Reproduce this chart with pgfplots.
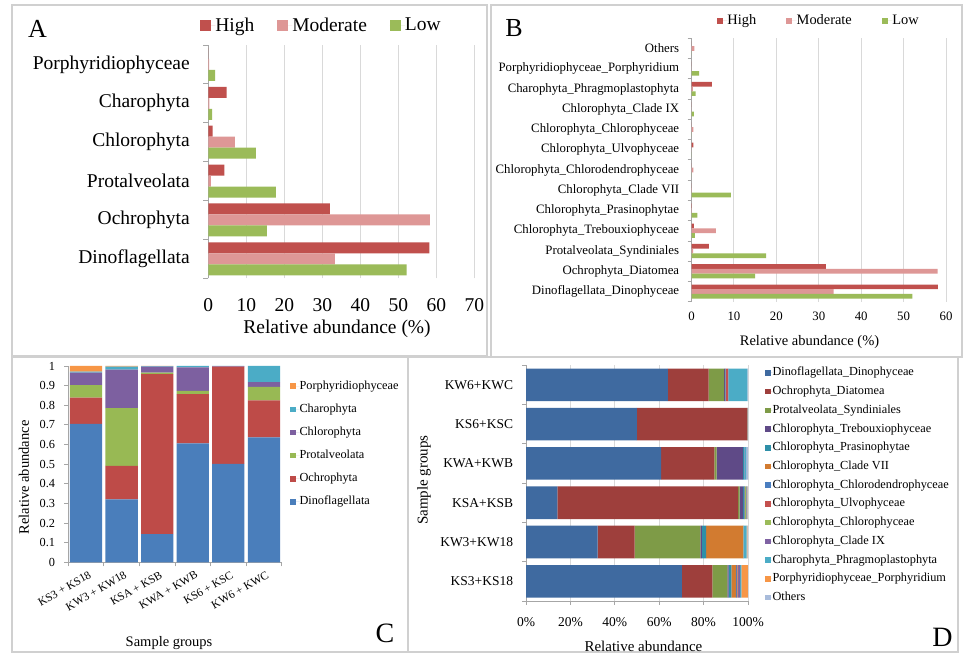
\documentclass[border=0pt]{standalone}
\usepackage{fontspec}
\setmainfont{Liberation Serif}
\usepackage{pgfplots}
\usepackage{pgfplotstable}
\pgfplotsset{compat=1.18}

\definecolor{hiC}{HTML}{C0504D}
\definecolor{moC}{HTML}{DE9796}
\definecolor{loC}{HTML}{9BBB59}
\definecolor{gridC}{HTML}{D9D9D9}
\definecolor{axC}{HTML}{A6A6A6}
\definecolor{frameC}{HTML}{D0D0D0}
\definecolor{cDino}{HTML}{4A7EBB}
\definecolor{cOchro}{HTML}{BE4B48}
\definecolor{cProt}{HTML}{98B954}
\definecolor{cChlo}{HTML}{7D60A0}
\definecolor{cChar}{HTML}{4BACC6}
\definecolor{cPorp}{HTML}{F79646}
\definecolor{dDino}{HTML}{3F6AA0}
\definecolor{dOchro}{HTML}{9E3F3C}
\definecolor{dProt}{HTML}{7E9B47}
\definecolor{dTreb}{HTML}{5F4A87}
\definecolor{dPras}{HTML}{2E8FA8}
\definecolor{dCVII}{HTML}{D27B30}
\definecolor{dCden}{HTML}{4A7EC0}
\definecolor{dUlvo}{HTML}{C4504E}
\definecolor{dCphy}{HTML}{9BBB59}
\definecolor{dCIX}{HTML}{7F62A3}
\definecolor{dChar}{HTML}{4BACC6}
\definecolor{dPorp}{HTML}{F79646}
\definecolor{dOth}{HTML}{A9BCDB}

\newcommand\fA{\fontsize{19.5}{22}\selectfont}
\newcommand\fB{\fontsize{12.8}{15}\selectfont}
\newcommand\fBleg{\fontsize{14.4}{16}\selectfont}
\newcommand\fBx{\fontsize{14.5}{16}\selectfont}
\newcommand\fC{\fontsize{12.3}{14}\selectfont}
\newcommand\fCx{\fontsize{11.5}{13}\selectfont}
\newcommand\fCl{\fontsize{14.5}{16}\selectfont}
\newcommand\fD{\fontsize{13.5}{15}\selectfont}
\newcommand\fDleg{\fontsize{12.3}{14}\selectfont}
\newcommand\fDl{\fontsize{15}{17}\selectfont}
\newcommand\fP{\fontsize{26}{28}\selectfont}
\newcommand\fPP{\fontsize{28}{30}\selectfont}

\pgfplotsset{
 legA/.style={legend image code/.code={\fill[##1] (0pt,-5.5pt) rectangle (11pt,5.5pt); \path (0pt,0pt) -- (15pt,0pt);}},
 legB/.style={legend image code/.code={\fill[##1] (0pt,-3pt) rectangle (6pt,3pt); \path (0pt,0pt) -- (10.5pt,0pt);}},
 legC/.style={legend image code/.code={\fill[##1] (0pt,-2.75pt) rectangle (5.5pt,2.75pt); \path (0pt,0pt) -- (9.3pt,0pt);}},
 legD/.style={legend image code/.code={\fill[##1] (0pt,-2.75pt) rectangle (5.5pt,2.75pt); \path (0pt,0pt) -- (7.3pt,0pt);}},
}

\pgfplotstableread{
idx High Mod Low
0 58.2 33.3 52.2
1 32.0 58.3 15.4
2 4.2 0.7 17.8
3 1.15 7.0 12.5
4 4.8 0.3 1.0
5 0.0 0.2 1.8
}\tableA

\pgfplotstableread{
idx High Mod Low
0 58.1 33.5 52.1
1 31.7 58.0 15.0
2 4.1 0.4 17.6
3 0.55 5.75 0.8
4 0.1 0.1 1.4
5 0.0 0.1 9.3
6 0.0 0.45 0.0
7 0.45 0.0 0.0
8 0.0 0.45 0.0
9 0.0 0.0 0.55
10 4.8 0.3 0.95
11 0.0 0.0 1.8
12 0.0 0.7 0.0
}\tableB

\pgfplotstableread{
idx Dino Ochro Protal Chloro Charo Porph
0 0.705 0.134 0.064 0.063 0.005 0.029
1 0.321 0.170 0.295 0.195 0.016 0.003
2 0.144 0.814 0.008 0.031 0.002 0.001
3 0.606 0.251 0.016 0.120 0.007 0.000
4 0.501 0.496 0.000 0.002 0.001 0.000
5 0.637 0.188 0.068 0.025 0.082 0.000
}\tableC

\pgfplotstableread{
idx Dino Ochro Protal Treb Pras CVII Cden Ulvo Cphy CIX Charo Porph Oth
0 70.2 13.7 6.8 0.6 1.2 2.1 0.4 0.3 0.3 0.9 0.5 2.9 0.1
1 32.3 16.6 29.6 0.7 1.9 16.6 0.1 0.0 0.1 0.1 1.4 0.3 0.3
2 14.1 81.4 0.7 1.6 0.4 0.1 0.2 0.1 0.6 0.2 0.2 0.1 0.3
3 60.9 24.0 1.0 11.8 0.5 0.0 0.0 0.0 0.0 0.2 0.7 0.0 0.9
4 49.9 49.6 0.0 0.1 0.0 0.0 0.0 0.1 0.1 0.0 0.1 0.0 0.1
5 63.9 18.4 6.9 0.5 0.1 0.0 0.1 1.0 0.1 0.2 8.5 0.0 0.3
}\tableD

\begin{document}
\begin{tikzpicture}
\useasboundingbox (0pt,0pt) rectangle (964pt,655pt);
\fill[white] (0pt,0pt) rectangle (964pt,655pt);
% panel frames
\draw[frameC, line width=1.2pt] (12pt,299pt) rectangle (487pt,650pt);
\draw[frameC, line width=1.2pt] (491pt,298pt) rectangle (962pt,650pt);
\draw[frameC, line width=1.2pt] (12pt,3pt) rectangle (408pt,298pt);
\draw[frameC, line width=1.2pt] (408pt,3pt) rectangle (958pt,298pt);

% ---------------- Panel A ----------------
\begin{axis}[
 at={(208.3pt,376.7pt)}, anchor=south west,
 scale only axis, width=266pt, height=233.3pt,
 xbar, bar width=11pt,
 xmin=0, xmax=70, ymin=-0.5, ymax=5.5,
 axis x line*=bottom, axis y line*=left,
 x axis line style={draw=none},
 y axis line style={draw=axC, line width=0.8pt},
 xtick={0,10,...,70}, xtick style={draw=none},
 xmajorgrids, grid style={draw=gridC, line width=0.9pt},
 ytick={0,...,5},
 yticklabels={Dinoflagellata,Ochrophyta,Protalveolata,Chlorophyta,Charophyta,Porphyridiophyceae},
 minor ytick={-0.5,0.5,1.5,2.5,3.5,4.5,5.5},
 ytick style={draw=axC, line width=0.8pt},
 major tick length=0pt, minor tick length=5pt, tick align=outside,
 /pgf/number format/assume math mode=true,
 xticklabel style={font=\fA, anchor=center, inner sep=0pt, yshift=-26.7pt},
 yticklabel style={font=\fA, anchor=east, inner sep=0pt, xshift=-18.3pt},
 xlabel={Relative abundance (\%)},
 xlabel style={font=\fA, at={(axis description cs:0.484,-0.2173)}, anchor=center, inner sep=0pt},
 legend style={at={(-0.031,1.0857)}, anchor=west, draw=none, fill=none, inner sep=0pt, font=\fA, nodes={inner sep=0pt}, /tikz/every even column/.append style={column sep=23pt}},
 legend columns=3, legend cell align=left,
]
\addplot[fill=hiC, draw=none, bar shift=11pt, legA] table[x=High, y=idx] {\tableA};
\addplot[fill=moC, draw=none, bar shift=0pt, legA] table[x=Mod, y=idx] {\tableA};
\addplot[fill=loC, draw=none, bar shift=-11pt, legA] table[x=Low, y=idx] {\tableA};
\legend{High,Moderate,Low}
\end{axis}

% ---------------- Panel B ----------------
\begin{axis}[
 at={(691.5pt,353.3pt)}, anchor=south west,
 scale only axis, width=254.5pt, height=263.4pt,
 xbar, bar width=4.7pt,
 xmin=0, xmax=60, ymin=-0.5, ymax=12.5,
 axis x line*=bottom, axis y line*=left,
 x axis line style={draw=none},
 y axis line style={draw=axC, line width=0.8pt},
 xtick={0,10,...,60}, xtick style={draw=none},
 xmajorgrids, grid style={draw=gridC, line width=0.9pt},
 ytick={0,...,12},
 yticklabels={Dinoflagellata\_Dinophyceae,Ochrophyta\_Diatomea,Protalveolata\_Syndiniales,Chlorophyta\_Trebouxiophyceae,Chlorophyta\_Prasinophytae,Chlorophyta\_Clade VII,Chlorophyta\_Chlorodendrophyceae,Chlorophyta\_Ulvophyceae,Chlorophyta\_Chlorophyceae,Chlorophyta\_Clade IX,Charophyta\_Phragmoplastophyta,Porphyridiophyceae\_Porphyridium,Others},
 minor ytick={-0.5,0.5,...,12.5},
 ytick style={draw=axC, line width=0.8pt},
 major tick length=0pt, minor tick length=4pt, tick align=outside,
 /pgf/number format/assume math mode=true,
 xticklabel style={font=\fB, anchor=center, inner sep=0pt, yshift=-14.3pt},
 yticklabel style={font=\fB, anchor=east, inner sep=0pt, xshift=-12.2pt},
 xlabel={Relative abundance (\%)},
 xlabel style={font=\fBx, at={(axis description cs:0.4637,-0.153)}, anchor=center, inner sep=0pt},
 legend style={at={(0.099,1.0668)}, anchor=west, draw=none, fill=none, inner sep=0pt, font=\fBleg, nodes={inner sep=0pt}, /tikz/every even column/.append style={column sep=30pt}},
 legend columns=3, legend cell align=left,
]
\addplot[fill=hiC, draw=none, bar shift=4.7pt, legB] table[x=High, y=idx] {\tableB};
\addplot[fill=moC, draw=none, bar shift=0pt, legB] table[x=Mod, y=idx] {\tableB};
\addplot[fill=loC, draw=none, bar shift=-4.7pt, legB] table[x=Low, y=idx] {\tableB};
\legend{High,Moderate,Low}
\end{axis}

% ---------------- Panel C ----------------
\begin{axis}[
 at={(68.3pt,92.7pt)}, anchor=south west,
 scale only axis, width=213.4pt, height=196.3pt,
 ybar stacked, bar width=32.3pt,
 xmin=-0.5, xmax=5.5, ymin=0, ymax=1,
 axis x line*=bottom, axis y line*=left,
 axis line style={draw=axC, line width=0.8pt},
 tick style={draw=axC, line width=0.8pt},
 major tick length=4pt, tick align=outside,
 ytick={0,0.1,0.2,0.3,0.4,0.5,0.6,0.7,0.8,0.9,1},
 /pgf/number format/assume math mode=true,
 yticklabel style={font=\fC, anchor=east, inner sep=0pt, xshift=-9pt, /pgf/number format/.cd, fixed, precision=1},
 xtick={-0.5,0.5,...,5.5}, xticklabels={},
 extra x ticks={0,1,2,3,4,5},
 extra x tick labels={KS3 + KS18,KW3 + KW18,KSA + KSB,KWA + KWB,KS6 + KSC,KW6 + KWC},
 extra x tick style={major tick length=0pt},
 xticklabel style={font=\fCx, inner sep=0pt, yshift=-8pt, xshift=2pt, rotate=30, anchor=north east},
 xlabel={Sample groups},
 xlabel style={font=\fCl, at={(axis description cs:0.472,-0.4111)}, anchor=center, inner sep=0pt},
 ylabel={Relative abundance},
 ylabel style={font=\fCl, at={(axis description cs:-0.2076,0.432)}, anchor=center, inner sep=0pt},
 legend style={at={(1.039,0.926)}, anchor=north west, draw=none, fill=none, inner sep=0pt, font=\fC, nodes={inner sep=0pt, text height=8.5pt, text depth=2.5pt}, row sep=12.14pt},
 legend cell align=left, reverse legend,
]
\addplot[fill=cDino, draw=none, legC] table[x=idx, y=Dino] {\tableC};
\addplot[fill=cOchro, draw=none, legC] table[x=idx, y=Ochro] {\tableC};
\addplot[fill=cProt, draw=none, legC] table[x=idx, y=Protal] {\tableC};
\addplot[fill=cChlo, draw=none, legC] table[x=idx, y=Chloro] {\tableC};
\addplot[fill=cChar, draw=none, legC] table[x=idx, y=Charo] {\tableC};
\addplot[fill=cPorp, draw=none, legC] table[x=idx, y=Porph] {\tableC};
\legend{Dinoflagellata,Ochrophyta,Protalveolata,Chlorophyta,Charophyta,Porphyridiophyceae}
\end{axis}

% ---------------- Panel D ----------------
\begin{axis}[
 at={(526pt,54pt)}, anchor=south west,
 scale only axis, width=222pt, height=235.8pt,
 xbar stacked, bar width=32.6pt,
 xmin=0, xmax=100, ymin=-0.5, ymax=5.5,
 axis x line*=bottom, axis y line*=left,
 axis line style={draw=axC, line width=0.8pt},
 tick style={draw=axC, line width=0.8pt},
 major tick length=4pt, tick align=outside,
 xtick={0,20,...,100},
 xmajorgrids, grid style={draw=gridC, line width=0.9pt},
 /pgf/number format/assume math mode=true,
 xticklabel={\pgfmathprintnumber{\tick}\%},
 xticklabel style={font=\fD, anchor=center, inner sep=0pt, yshift=-17.5pt},
 ytick={-0.5,0.5,...,5.5}, yticklabels={},
 extra y ticks={0,1,2,3,4,5},
 extra y tick labels={KS3+KS18,KW3+KW18,KSA+KSB,KWA+KWB,KS6+KSC,KW6+KWC},
 extra y tick style={major tick length=0pt},
 yticklabel style={font=\fD, anchor=east, inner sep=0pt, xshift=-12.7pt},
 xlabel={Relative abundance},
 xlabel style={font=\fDl, at={(axis description cs:0.529,-0.1938)}, anchor=center, inner sep=0pt},
 ylabel={Sample groups},
 ylabel style={font=\fDl, at={(axis description cs:-0.4595,0.513)}, anchor=center, inner sep=0pt},
 legend style={at={(1.0766,0.9915)}, anchor=north west, draw=none, fill=none, inner sep=0pt, font=\fDleg, nodes={inner sep=0pt, text height=8.5pt, text depth=2.5pt}, row sep=7.72pt},
 legend cell align=left,
]
\addplot[fill=dDino, draw=none, legD] table[x=Dino, y=idx] {\tableD};
\addplot[fill=dOchro, draw=none, legD] table[x=Ochro, y=idx] {\tableD};
\addplot[fill=dProt, draw=none, legD] table[x=Protal, y=idx] {\tableD};
\addplot[fill=dTreb, draw=none, legD] table[x=Treb, y=idx] {\tableD};
\addplot[fill=dPras, draw=none, legD] table[x=Pras, y=idx] {\tableD};
\addplot[fill=dCVII, draw=none, legD] table[x=CVII, y=idx] {\tableD};
\addplot[fill=dCden, draw=none, legD] table[x=Cden, y=idx] {\tableD};
\addplot[fill=dUlvo, draw=none, legD] table[x=Ulvo, y=idx] {\tableD};
\addplot[fill=dCphy, draw=none, legD] table[x=Cphy, y=idx] {\tableD};
\addplot[fill=dCIX, draw=none, legD] table[x=CIX, y=idx] {\tableD};
\addplot[fill=dChar, draw=none, legD] table[x=Charo, y=idx] {\tableD};
\addplot[fill=dPorp, draw=none, legD] table[x=Porph, y=idx] {\tableD};
\addplot[fill=dOth, draw=none, legD] table[x=Oth, y=idx] {\tableD};
\legend{Dinoflagellata\_Dinophyceae,Ochrophyta\_Diatomea,Protalveolata\_Syndiniales,Chlorophyta\_Trebouxiophyceae,Chlorophyta\_Prasinophytae,Chlorophyta\_Clade VII,Chlorophyta\_Chlorodendrophyceae,Chlorophyta\_Ulvophyceae,Chlorophyta\_Chlorophyceae,Chlorophyta\_Clade IX,Charophyta\_Phragmoplastophyta,Porphyridiophyceae\_Porphyridium,Others}
\end{axis}

% panel letters
\node[font=\fP, inner sep=0pt] at (37.5pt,626.5pt) {A};
\node[font=\fP, inner sep=0pt] at (514pt,626.5pt) {B};
\node[font=\fPP, inner sep=0pt] at (385pt,22pt) {C};
\node[font=\fPP, inner sep=0pt] at (942.5pt,17.5pt) {D};
\end{tikzpicture}
\end{document}
